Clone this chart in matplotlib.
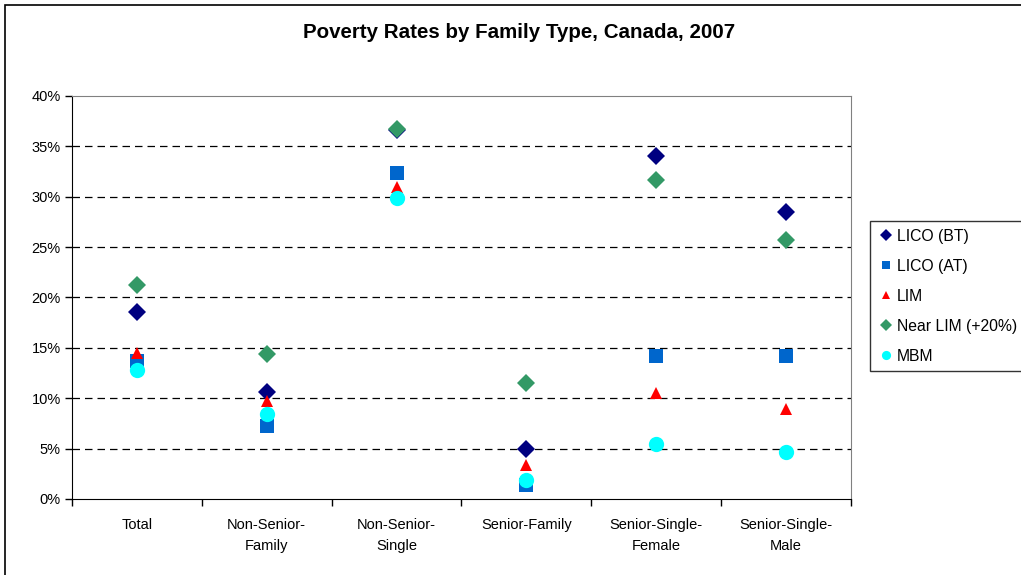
import matplotlib
matplotlib.use("Agg")
import matplotlib.pyplot as plt
from matplotlib.patches import Rectangle
from matplotlib.ticker import FuncFormatter, MultipleLocator

plt.rcParams['font.family'] = ['Liberation Sans', 'DejaVu Sans']

# Daten (Prozent)
categories = ["Total", "Non-Senior-\nFamily", "Non-Senior-\nSingle", "Senior-Family",
              "Senior-Single-\nFemale", "Senior-Single-\nMale"]
lico_bt = [18.6, 10.6, 36.6, 5.0, 34.0, 28.5]
lico_at = [13.7, 7.2, 32.4, 1.4, 14.2, 14.2]
lim = [14.5, 9.7, 31.0, 3.4, 10.5, 8.9]
near_lim = [21.2, 14.4, 36.7, 11.5, 31.7, 25.7]
mbm = [12.8, 8.4, 29.9, 1.9, 5.5, 4.7]

series = [
    ("LICO (BT)", lico_bt, 'D', '#000080', 9.5),
    ("LICO (AT)", lico_at, 's', '#0066CC', 10.5),
    ("LIM", lim, '^', '#FF0000', 8.5),
    ("Near LIM (+20%)", near_lim, 'D', '#339966', 9.5),
    ("MBM", mbm, 'o', '#00FFFF', 11),
]

fig = plt.figure(figsize=(10.21, 5.75), dpi=100)
ax = fig.add_axes([0.0705, 0.1322, 0.763, 0.7009])

x = list(range(len(categories)))
for i, (name, vals, mk, col, ms) in enumerate(series):
    ax.plot(x, vals, linestyle='none', marker=mk, color=col, markersize=ms,
            markeredgewidth=0, label=name, zorder=3 + i)

ax.set_xlim(-0.5, len(categories) - 0.5)
ax.set_ylim(0, 40)
ax.yaxis.set_major_locator(MultipleLocator(5))
ax.yaxis.set_major_formatter(FuncFormatter(lambda v, p: f"{v:.0f}%"))
ax.set_xticks(x)
ax.set_xticklabels(categories, fontsize=10.5, linespacing=1.6)
ax.set_xticks([i - 0.5 for i in range(len(categories) + 1)], minor=True)
ax.tick_params(axis='x', which='major', length=0, pad=14)
ax.tick_params(axis='x', which='minor', length=5, direction='out', width=1)
ax.tick_params(axis='y', length=5, direction='out', width=1, labelsize=10.5, pad=3)

for y in range(5, 40, 5):
    ax.axhline(y, color='black', linestyle=(0, (6, 4)), linewidth=0.9, zorder=1)

ax.spines['left'].set_color('black')
ax.spines['bottom'].set_color('black')
ax.spines['top'].set_color('#808080')
ax.spines['right'].set_color('#808080')

fig.text(0.508, 0.943, "Poverty Rates by Family Type, Canada, 2007", ha='center', va='center',
         fontsize=14.8, fontweight='bold')

leg = fig.legend(loc='upper left', bbox_to_anchor=(0.8525, 0.6155), fontsize=11.3,
                 frameon=True, fancybox=False, handletextpad=0.2, handlelength=1.0,
                 labelspacing=0.95, borderpad=0.5, borderaxespad=0, markerscale=0.6)
leg.get_frame().set_edgecolor('black')
leg.get_frame().set_linewidth(1)

# Rahmen (nur links und oben sichtbar, Rest abgeschnitten)
fig.patches.append(Rectangle((5 / 1021, -0.1), 1.2, 1.1 - 5 / 575, transform=fig.transFigure,
                             fill=False, edgecolor='black', linewidth=1.2))

fig.savefig("out.png", dpi=100)
